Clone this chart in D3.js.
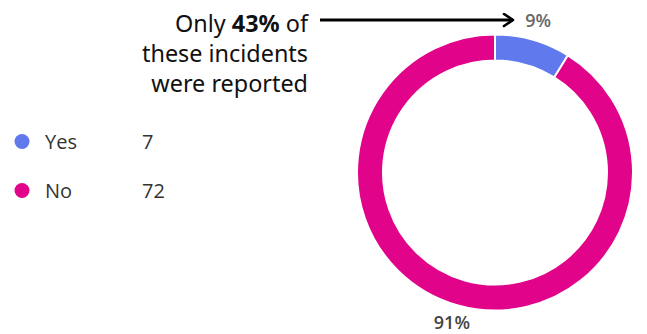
<!DOCTYPE html>
<html>
<head>
<meta charset="utf-8">
<script src="https://cdn.jsdelivr.net/npm/d3@7/dist/d3.min.js"></script>
<style>
  html, body { margin: 0; padding: 0; background: #fff; }
  svg { display: block; }
</style>
</head>
<body>
<svg id="chart" width="647" height="334"></svg>
<script>
// Survey answers: were the incidents reported?
const categories = ["Yes", "No"];
const counts = [7, 72];
const percentLabels = ["9%", "91%"];
const colors = ["#6079EC", "#E1048A"];
const noteLines = [["Only ", "43%", " of"], ["these incidents"], ["were reported"]];

const svg = d3.select("#chart");

// Donut
const cx = 495, cy = 172.5;
const outerR = 138, innerR = 112, labelR = 157;

const pie = d3.pie().sort(null).value(d => d);
const arcs = pie(counts);
const arc = d3.arc().innerRadius(innerR).outerRadius(outerR);
const labelArc = d3.arc().innerRadius(labelR).outerRadius(labelR);

const g = svg.append("g").attr("transform", `translate(${cx},${cy})`);
g.selectAll("path.slice")
  .data(arcs)
  .join("path")
  .attr("class", "slice")
  .attr("d", arc)
  .attr("fill", (d, i) => colors[i])
  .attr("stroke", "#fff")
  .attr("stroke-width", 2);

g.selectAll("text.pct")
  .data(arcs)
  .join("text")
  .attr("class", "pct")
  .attr("transform", d => `translate(${labelArc.centroid(d)})`)
  .attr("text-anchor", "middle")
  .attr("dy", "0.3em")
  .attr("font-family", "'Open Sans', sans-serif")
  .attr("font-weight", 600)
  .attr("font-size", 18)
  .attr("fill", (d, i) => i === 0 ? "#666" : "#444")
  .text((d, i) => percentLabels[i]);

// Legend
const legend = svg.append("g");
const rowY = d3.scalePoint().domain(categories).range([141.5, 190.5]);
const row = legend.selectAll("g.row")
  .data(categories)
  .join("g")
  .attr("class", "row")
  .attr("transform", d => `translate(0,${rowY(d)})`);
row.append("circle")
  .attr("cx", 22).attr("cy", 0).attr("r", 7.5)
  .attr("fill", (d, i) => colors[i]);
row.append("text")
  .attr("x", 45).attr("y", 0).attr("dy", "0.36em")
  .attr("font-family", "'Open Sans', sans-serif")
  .attr("font-size", 20)
  .attr("fill", "#333")
  .text(d => d);
row.append("text")
  .attr("x", 142).attr("y", 0).attr("dy", "0.36em")
  .attr("font-family", "'Open Sans', sans-serif")
  .attr("font-size", 20)
  .attr("fill", "#333")
  .text((d, i) => counts[i]);

// Annotation
const note = svg.append("text")
  .attr("text-anchor", "end")
  .attr("font-family", "'Noto Sans', sans-serif")
  .attr("font-size", 23.4)
  .attr("fill", "#111");
noteLines.forEach((parts, li) => {
  const line = note.append("tspan").attr("x", 308).attr("y", 32 + li * 30);
  parts.forEach((p, pi) => {
    if (pi === 0) line.text(p);
    else note.append("tspan").text(p).attr("font-weight", pi === 1 ? 700 : 400);
  });
});

// Arrow pointing to the "Yes" share
svg.append("defs").append("marker")
  .attr("id", "head")
  .attr("viewBox", "0 0 10 10")
  .attr("refX", 8).attr("refY", 5)
  .attr("markerWidth", 5).attr("markerHeight", 5)
  .attr("markerUnits", "strokeWidth")
  .attr("orient", "auto")
  .append("path")
  .attr("d", "M2,1 L8,5 L2,9")
  .attr("fill", "none")
  .attr("stroke", "#000")
  .attr("stroke-width", 1.8)
  .attr("stroke-linecap", "round")
  .attr("stroke-linejoin", "round");
svg.append("line")
  .attr("x1", 320).attr("y1", 20)
  .attr("x2", 513).attr("y2", 20)
  .attr("stroke", "#000")
  .attr("stroke-width", 3)
  .attr("marker-end", "url(#head)");
</script>
</body>
</html>
